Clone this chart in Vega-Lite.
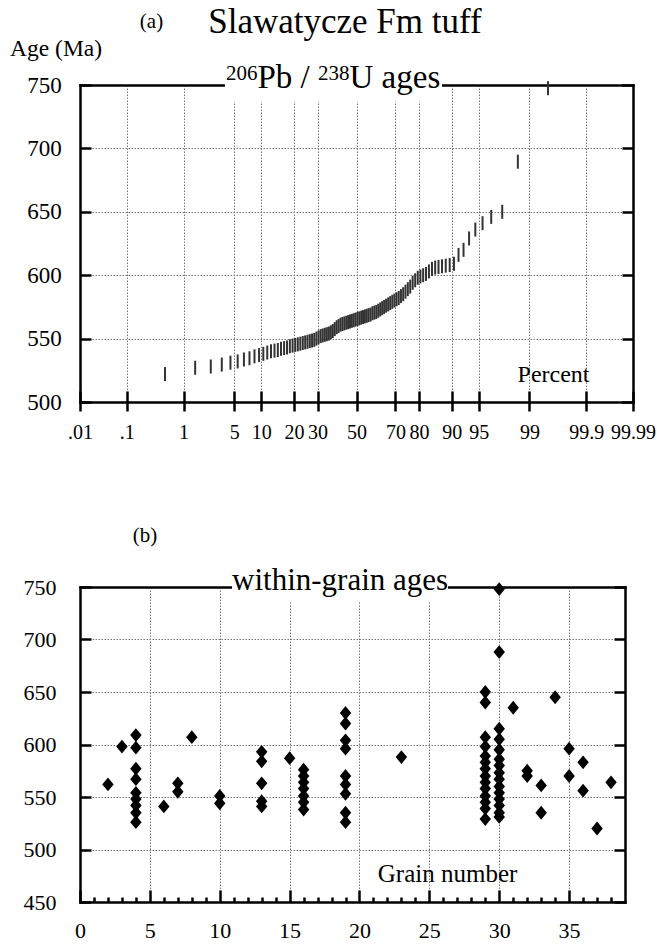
{
  "$schema": "https://vega.github.io/schema/vega-lite/v6.json",
  "padding": {"left": 10, "top": 5, "right": 0, "bottom": 0},
  "background": "white",
  "columns": 1,
  "spacing": 82,
  "bounds": "full",
  "datasets": {
    "ranked": [
      {"pct": 0.5, "age": 522}, {"pct": 1.5, "age": 527}, {"pct": 2.5, "age": 528}, {"pct": 3.5, "age": 529.5},
      {"pct": 4.5, "age": 531}, {"pct": 5.5, "age": 532}, {"pct": 6.5, "age": 533.5}, {"pct": 7.5, "age": 534.5},
      {"pct": 8.5, "age": 536}, {"pct": 9.5, "age": 537}, {"pct": 10.5, "age": 538}, {"pct": 11.5, "age": 539},
      {"pct": 12.5, "age": 540}, {"pct": 13.5, "age": 540.5}, {"pct": 14.5, "age": 541}, {"pct": 15.5, "age": 542},
      {"pct": 16.5, "age": 542.5}, {"pct": 17.5, "age": 543}, {"pct": 18.5, "age": 544}, {"pct": 19.5, "age": 544.5},
      {"pct": 20.5, "age": 545}, {"pct": 21.5, "age": 545.5}, {"pct": 22.5, "age": 546}, {"pct": 23.5, "age": 546.5},
      {"pct": 24.5, "age": 547}, {"pct": 25.5, "age": 547.5}, {"pct": 26.5, "age": 548}, {"pct": 27.5, "age": 548.5},
      {"pct": 28.5, "age": 549}, {"pct": 29.5, "age": 550}, {"pct": 30.5, "age": 551}, {"pct": 31.5, "age": 552},
      {"pct": 32.5, "age": 552.5}, {"pct": 33.5, "age": 553}, {"pct": 34.5, "age": 553.5}, {"pct": 35.5, "age": 554},
      {"pct": 36.5, "age": 555}, {"pct": 37.5, "age": 556}, {"pct": 38.5, "age": 557.5}, {"pct": 39.5, "age": 559},
      {"pct": 40.5, "age": 560}, {"pct": 41.5, "age": 561}, {"pct": 42.5, "age": 561.5}, {"pct": 43.5, "age": 562},
      {"pct": 44.5, "age": 562.5}, {"pct": 45.5, "age": 563}, {"pct": 46.5, "age": 563.5}, {"pct": 47.5, "age": 564},
      {"pct": 48.5, "age": 564.5}, {"pct": 49.5, "age": 565}, {"pct": 50.5, "age": 565.5}, {"pct": 51.5, "age": 566},
      {"pct": 52.5, "age": 566.5}, {"pct": 53.5, "age": 567}, {"pct": 54.5, "age": 567.5}, {"pct": 55.5, "age": 568},
      {"pct": 56.5, "age": 568.5}, {"pct": 57.5, "age": 569}, {"pct": 58.5, "age": 570}, {"pct": 59.5, "age": 570.5},
      {"pct": 60.5, "age": 571}, {"pct": 61.5, "age": 572}, {"pct": 62.5, "age": 573}, {"pct": 63.5, "age": 574},
      {"pct": 64.5, "age": 575}, {"pct": 65.5, "age": 576}, {"pct": 66.5, "age": 577}, {"pct": 67.5, "age": 578},
      {"pct": 68.5, "age": 579}, {"pct": 69.5, "age": 580}, {"pct": 70.5, "age": 581}, {"pct": 71.5, "age": 582},
      {"pct": 72.5, "age": 583.5}, {"pct": 73.5, "age": 585}, {"pct": 74.5, "age": 587}, {"pct": 75.5, "age": 589},
      {"pct": 76.5, "age": 591}, {"pct": 77.5, "age": 594}, {"pct": 78.5, "age": 596}, {"pct": 79.5, "age": 598},
      {"pct": 80.5, "age": 599}, {"pct": 81.5, "age": 600}, {"pct": 82.5, "age": 601}, {"pct": 83.5, "age": 603},
      {"pct": 84.5, "age": 605}, {"pct": 85.5, "age": 606}, {"pct": 86.5, "age": 606.5}, {"pct": 87.5, "age": 607},
      {"pct": 88.5, "age": 607.5}, {"pct": 89.5, "age": 608}, {"pct": 90.5, "age": 609}, {"pct": 91.5, "age": 616},
      {"pct": 92.5, "age": 620}, {"pct": 93.5, "age": 629}, {"pct": 94.5, "age": 636}, {"pct": 95.5, "age": 641},
      {"pct": 96.5, "age": 646}, {"pct": 97.5, "age": 650}, {"pct": 98.5, "age": 689.5}, {"pct": 99.5, "age": 747.5}
    ],
    "grains": [
      {"grain": 2, "age": 562}, {"grain": 3, "age": 598},
      {"grain": 4, "age": 609}, {"grain": 4, "age": 597}, {"grain": 4, "age": 577}, {"grain": 4, "age": 567}, {"grain": 4, "age": 554},
      {"grain": 4, "age": 548}, {"grain": 4, "age": 542}, {"grain": 4, "age": 535}, {"grain": 4, "age": 526},
      {"grain": 6, "age": 541}, {"grain": 7, "age": 563}, {"grain": 7, "age": 555}, {"grain": 8, "age": 607},
      {"grain": 10, "age": 551}, {"grain": 10, "age": 544},
      {"grain": 13, "age": 593}, {"grain": 13, "age": 584}, {"grain": 13, "age": 563}, {"grain": 13, "age": 546}, {"grain": 13, "age": 541},
      {"grain": 15, "age": 587},
      {"grain": 16, "age": 576}, {"grain": 16, "age": 570}, {"grain": 16, "age": 564}, {"grain": 16, "age": 558}, {"grain": 16, "age": 551},
      {"grain": 16, "age": 545}, {"grain": 16, "age": 538},
      {"grain": 19, "age": 630}, {"grain": 19, "age": 620}, {"grain": 19, "age": 604}, {"grain": 19, "age": 596}, {"grain": 19, "age": 570},
      {"grain": 19, "age": 562}, {"grain": 19, "age": 553}, {"grain": 19, "age": 535}, {"grain": 19, "age": 526},
      {"grain": 23, "age": 588},
      {"grain": 29, "age": 650}, {"grain": 29, "age": 640}, {"grain": 29, "age": 607}, {"grain": 29, "age": 598}, {"grain": 29, "age": 589},
      {"grain": 29, "age": 583}, {"grain": 29, "age": 577}, {"grain": 29, "age": 570}, {"grain": 29, "age": 564}, {"grain": 29, "age": 558},
      {"grain": 29, "age": 551}, {"grain": 29, "age": 545}, {"grain": 29, "age": 539}, {"grain": 29, "age": 529},
      {"grain": 30, "age": 748}, {"grain": 30, "age": 688}, {"grain": 30, "age": 615}, {"grain": 30, "age": 605}, {"grain": 30, "age": 595},
      {"grain": 30, "age": 586}, {"grain": 30, "age": 580}, {"grain": 30, "age": 573}, {"grain": 30, "age": 567}, {"grain": 30, "age": 560},
      {"grain": 30, "age": 554}, {"grain": 30, "age": 548}, {"grain": 30, "age": 542}, {"grain": 30, "age": 535}, {"grain": 30, "age": 531},
      {"grain": 31, "age": 635}, {"grain": 32, "age": 575}, {"grain": 32, "age": 570}, {"grain": 33, "age": 561}, {"grain": 33, "age": 535},
      {"grain": 34, "age": 645}, {"grain": 35, "age": 596}, {"grain": 35, "age": 570}, {"grain": 36, "age": 583}, {"grain": 36, "age": 556},
      {"grain": 37, "age": 520}, {"grain": 38, "age": 564}
    ]
  },
  "concat": [
    {
      "width": 553,
      "height": 317,
      "data": {"name": "ranked"},
      "transform": [{"calculate": "quantileNormal(datum.pct / 100)", "as": "z"}],
      "layer": [
        {
          "mark": {"type": "tick", "orient": "vertical", "size": 14, "thickness": 2, "color": "#333", "opacity": 1},
          "encoding": {
            "x": {"field": "z", "type": "quantitative", "scale": {"domain": [-3.719, 3.719], "nice": false, "zero": false},
              "axis": {"orient": "bottom", "title": null, "values": [-3.719, -3.0902, -2.3263, -1.6449, -1.2816, -0.8416, -0.5244, 0, 0.5244, 0.8416, 1.2816, 1.6449, 2.3263, 3.0902, 3.719],
                "labelExpr": "datum.value < -3.5 ? '.01' : datum.value < -3 ? '.1' : datum.value < -2 ? '1' : datum.value < -1.5 ? '5' : datum.value < -1 ? '10' : datum.value < -0.7 ? '20' : datum.value < -0.3 ? '30' : datum.value < 0.3 ? '50' : datum.value < 0.7 ? '70' : datum.value < 1 ? '80' : datum.value < 1.5 ? '90' : datum.value < 2 ? '95' : datum.value < 3 ? '99' : datum.value < 3.5 ? '99.9' : '99.99'",
                "offset": -11, "tickSize": 20, "domain": false, "grid": true, "labelPadding": 11, "labelFontSize": 20}},
            "y": {"field": "age", "type": "quantitative", "scale": {"domain": [500, 750], "nice": false, "zero": false},
              "axis": {"orient": "left", "title": null, "values": [500, 550, 600, 650, 700, 750], "tickSize": -11, "domain": true, "grid": true, "labelPadding": 29.7, "labelFontSize": 23}}
          }
        },
        {
          "mark": {"type": "tick", "opacity": 0},
          "encoding": {
            "x": {"field": "z", "type": "quantitative", "axis": {"orient": "bottom", "title": null, "domain": true, "ticks": false, "labels": false, "grid": false}},
            "y": {"field": "age", "type": "quantitative", "axis": {"orient": "right", "title": null, "values": [500, 550, 600, 650, 700, 750], "labels": false, "tickSize": -11, "domain": true, "grid": false}}
          }
        },
        {
          "mark": {"type": "tick", "opacity": 0},
          "encoding": {
            "x": {"field": "z", "type": "quantitative", "axis": {"orient": "top", "title": null, "domain": true, "ticks": false, "labels": false, "grid": false}},
            "y": {"field": "age", "type": "quantitative", "axis": null}
          }
        },
        {
          "data": {"values": [{}]},
          "mark": {"type": "rect", "color": "white"},
          "encoding": {
            "x": {"datum": -1.769, "type": "quantitative", "axis": null}, "x2": {"datum": 1.15},
            "y": {"datum": 737, "type": "quantitative", "axis": null}, "y2": {"datum": 765}
          }
        },
        {
          "data": {"values": [{}]},
          "mark": {"type": "text", "text": "(a)", "font": "Liberation Serif", "fontSize": 21, "align": "center", "baseline": "alphabetic", "color": "black"},
          "encoding": {"x": {"datum": -2.757, "type": "quantitative", "axis": null}, "y": {"datum": 794.6, "type": "quantitative", "axis": null}}
        },
        {
          "data": {"values": [{}]},
          "mark": {"type": "text", "text": "Slawatycze Fm tuff", "font": "Liberation Serif", "fontSize": 35, "align": "center", "baseline": "alphabetic", "color": "black"},
          "encoding": {"x": {"datum": -0.155, "type": "quantitative", "axis": null}, "y": {"datum": 790.7, "type": "quantitative", "axis": null}}
        },
        {
          "data": {"values": [{}]},
          "mark": {"type": "text", "text": "Age (Ma)", "font": "Liberation Serif", "fontSize": 23.5, "align": "left", "baseline": "alphabetic", "color": "black"},
          "encoding": {"x": {"datum": -4.66, "type": "quantitative", "axis": null}, "y": {"datum": 772.5, "type": "quantitative", "axis": null}}
        },
        {
          "data": {"values": [{}]},
          "mark": {"type": "text", "text": "206", "font": "Liberation Serif", "fontSize": 21, "align": "left", "baseline": "alphabetic", "color": "black"},
          "encoding": {"x": {"datum": -1.755, "type": "quantitative", "axis": null}, "y": {"datum": 754, "type": "quantitative", "axis": null}}
        },
        {
          "data": {"values": [{}]},
          "mark": {"type": "text", "text": "Pb /", "font": "Liberation Serif", "fontSize": 33, "align": "left", "baseline": "alphabetic", "color": "black"},
          "encoding": {"x": {"datum": -1.332, "type": "quantitative", "axis": null}, "y": {"datum": 747.6, "type": "quantitative", "axis": null}}
        },
        {
          "data": {"values": [{}]},
          "mark": {"type": "text", "text": "238", "font": "Liberation Serif", "fontSize": 21, "align": "left", "baseline": "alphabetic", "color": "black"},
          "encoding": {"x": {"datum": -0.518, "type": "quantitative", "axis": null}, "y": {"datum": 754, "type": "quantitative", "axis": null}}
        },
        {
          "data": {"values": [{}]},
          "mark": {"type": "text", "text": "U ages", "font": "Liberation Serif", "fontSize": 33, "align": "left", "baseline": "alphabetic", "color": "black"},
          "encoding": {"x": {"datum": -0.094, "type": "quantitative", "axis": null}, "y": {"datum": 747.6, "type": "quantitative", "axis": null}}
        },
        {
          "data": {"values": [{}]},
          "mark": {"type": "text", "text": "Percent", "font": "Liberation Serif", "fontSize": 24, "align": "center", "baseline": "alphabetic", "color": "black"},
          "encoding": {"x": {"datum": 2.65, "type": "quantitative", "axis": null}, "y": {"datum": 515.8, "type": "quantitative", "axis": null}}
        }
      ],
      "resolve": {"axis": {"x": "independent", "y": "independent"}}
    },
    {
      "width": 545,
      "height": 315,
      "data": {"name": "grains"},
      "layer": [
        {
          "mark": {"type": "point", "shape": "M0,-1L0.83,0L0,1L-0.83,0Z", "filled": true, "color": "black", "opacity": 1, "size": 190},
          "encoding": {
            "x": {"field": "grain", "type": "quantitative", "scale": {"domain": [0, 39], "nice": false, "zero": false},
              "axis": {"orient": "bottom", "title": null, "values": [0, 5, 10, 15, 20, 25, 30, 35], "tickSize": -12, "domain": true, "grid": true, "labelPadding": 30, "labelFontSize": 22}},
            "y": {"field": "age", "type": "quantitative", "scale": {"domain": [450, 750], "nice": false, "zero": false},
              "axis": {"orient": "left", "title": null, "values": [450, 500, 550, 600, 650, 700, 750], "tickSize": -11, "domain": true, "grid": true, "labelPadding": 35, "labelFontSize": 22}}
          }
        },
        {
          "mark": {"type": "point", "opacity": 0},
          "encoding": {
            "x": {"field": "grain", "type": "quantitative", "axis": {"orient": "bottom", "title": null, "values": [1, 2, 3, 4, 6, 7, 8, 9, 11, 12, 13, 14, 16, 17, 18, 19, 21, 22, 23, 24, 26, 27, 28, 29, 31, 32, 33, 34, 36, 37, 38], "tickSize": -5, "labels": false, "domain": false, "grid": false}},
            "y": {"field": "age", "type": "quantitative", "axis": {"orient": "right", "title": null, "values": [450, 500, 550, 600, 650, 700, 750], "labels": false, "tickSize": -11, "domain": true, "grid": false}}
          }
        },
        {
          "mark": {"type": "point", "opacity": 0},
          "encoding": {
            "x": {"field": "grain", "type": "quantitative", "axis": {"orient": "top", "title": null, "domain": true, "ticks": false, "labels": false, "grid": false}},
            "y": {"field": "age", "type": "quantitative", "axis": null}
          }
        },
        {
          "data": {"values": [{}]},
          "mark": {"type": "rect", "color": "white"},
          "encoding": {
            "x": {"datum": 10.88, "type": "quantitative", "axis": null}, "x2": {"datum": 26.33},
            "y": {"datum": 735.7, "type": "quantitative", "axis": null}, "y2": {"datum": 765}
          }
        },
        {
          "data": {"values": [{}]},
          "mark": {"type": "text", "text": "(b)", "font": "Liberation Serif", "fontSize": 21, "align": "center", "baseline": "alphabetic", "color": "black"},
          "encoding": {"x": {"datum": 4.65, "type": "quantitative", "axis": null}, "y": {"datum": 792.9, "type": "quantitative", "axis": null}}
        },
        {
          "data": {"values": [{}]},
          "mark": {"type": "text", "text": "within-grain ages", "font": "Liberation Serif", "fontSize": 31, "align": "center", "baseline": "alphabetic", "color": "black"},
          "encoding": {"x": {"datum": 18.61, "type": "quantitative", "axis": null}, "y": {"datum": 747.1, "type": "quantitative", "axis": null}}
        },
        {
          "data": {"values": [{}]},
          "mark": {"type": "text", "text": "Grain number", "font": "Liberation Serif", "fontSize": 25, "align": "center", "baseline": "alphabetic", "color": "black"},
          "encoding": {"x": {"datum": 26.3, "type": "quantitative", "axis": null}, "y": {"datum": 469, "type": "quantitative", "axis": null}}
        }
      ],
      "resolve": {"axis": {"x": "independent", "y": "independent"}}
    }
  ],
  "config": {
    "view": {"stroke": null},
    "font": "Liberation Serif",
    "axis": {
      "labelFont": "Liberation Serif", "labelColor": "black",
      "domainColor": "black", "domainWidth": 2.5, "domainCap": "square",
      "tickColor": "black", "tickWidth": 2.5,
      "gridColor": "#777", "gridDash": [1.5, 1.5], "gridWidth": 1,
      "labelOverlap": false, "labelFlush": false, "labelBound": false
    }
  }
}
